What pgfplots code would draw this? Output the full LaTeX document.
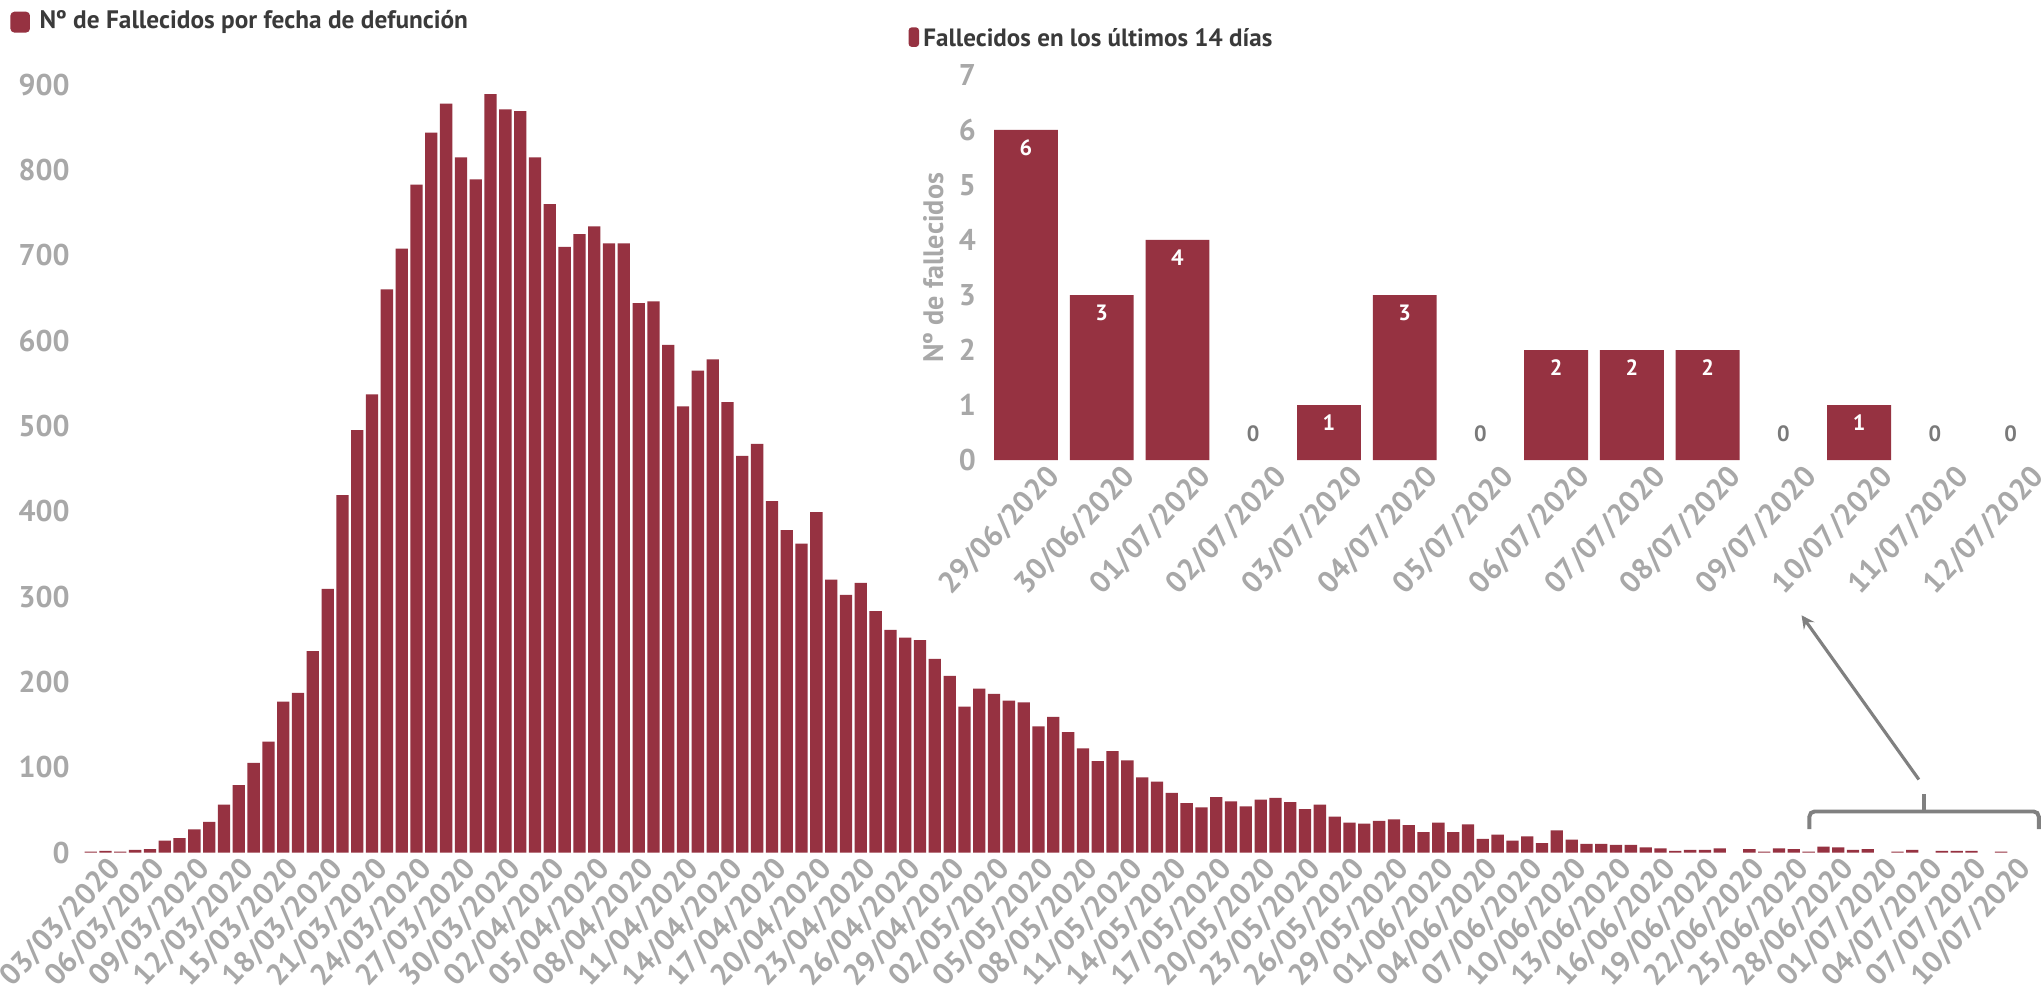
\documentclass[border=0pt]{standalone}
\usepackage{fontspec}
\setmainfont{PT Sans}
\usepackage{pgfplots}
\pgfplotsset{compat=1.18}

\definecolor{barred}{HTML}{963241}
\definecolor{tickgray}{HTML}{A8A8A8}
\definecolor{titlegray}{HTML}{3A3A3A}
\definecolor{zerogray}{HTML}{7A7A7A}
\definecolor{arrowgray}{HTML}{808080}

\newcommand{\tickfont}{\fontsize{11.5}{13}\selectfont\bfseries}

\begin{document}
\begin{tikzpicture}[x=1pt,y=1pt]
\useasboundingbox (0,0) rectangle (784,381.5);
\fill[white] (0,0) rectangle (784,381.5);

% main chart: deaths per day
\begin{axis}[
  at={(31.95pt,54.5pt)}, anchor=south west,
  scale only axis, width=749.8pt, height=294.5pt,
  xmin=-0.5, xmax=131.5, ymin=0, ymax=900,
  axis line style={draw=none}, major tick length=0pt,
  ybar, bar width=0.83,
  xtick={0,3,...,129},
  xticklabels={03/03/2020,06/03/2020,09/03/2020,12/03/2020,15/03/2020,18/03/2020,
    21/03/2020,24/03/2020,27/03/2020,30/03/2020,02/04/2020,05/04/2020,08/04/2020,
    11/04/2020,14/04/2020,17/04/2020,20/04/2020,23/04/2020,26/04/2020,29/04/2020,
    02/05/2020,05/05/2020,08/05/2020,11/05/2020,14/05/2020,17/05/2020,20/05/2020,
    23/05/2020,26/05/2020,29/05/2020,01/06/2020,04/06/2020,07/06/2020,10/06/2020,
    13/06/2020,16/06/2020,19/06/2020,22/06/2020,25/06/2020,28/06/2020,01/07/2020,
    04/07/2020,07/07/2020,10/07/2020},
  ytick={0,100,...,900},
  /pgf/number format/assume math mode=true,
  tick label style={font=\tickfont, text=tickgray},
  yticklabel style={anchor=east, inner sep=0pt, xshift=-5pt},
  xticklabel style={rotate=47, anchor=north east, inner sep=0pt, xshift=3.5pt, yshift=-5pt},
  clip=false,
]
\addplot[fill=barred, draw=none, bar shift=0pt] coordinates {
(0,1) (1,2) (2,1) (3,3) (4,4) (5,14) (6,17) (7,27) (8,36) (9,56)
(10,79) (11,105) (12,130) (13,177) (14,187) (15,236) (16,309) (17,419) (18,495) (19,537)
(20,660) (21,708) (22,783) (23,844) (24,878) (25,815) (26,789) (27,889) (28,871) (29,869)
(30,815) (31,760) (32,710) (33,725) (34,734) (35,714) (36,714) (37,644) (38,646) (39,595)
(40,523) (41,565) (42,578) (43,528) (44,465) (45,479) (46,412) (47,378) (48,362) (49,399)
(50,320) (51,302) (52,316) (53,283) (54,261) (55,252) (56,249) (57,227) (58,207) (59,171)
(60,192) (61,186) (62,178) (63,176) (64,148) (65,159) (66,141) (67,122) (68,107) (69,119)
(70,108) (71,88) (72,83) (73,70) (74,58) (75,53) (76,65) (77,60) (78,54) (79,62)
(80,64) (81,59) (82,51) (83,56) (84,42) (85,35) (86,34) (87,37) (88,39) (89,32)
(90,24) (91,35) (92,24) (93,33) (94,16) (95,21) (96,14) (97,19) (98,11) (99,26)
(100,15) (101,10) (102,10) (103,9) (104,9) (105,6) (106,5) (107,2) (108,3) (109,3)
(110,5) (112,4) (113,1) (114,5) (115,4) (116,1) (117,7) (118,6) (119,3)
(120,4) (122,1) (123,3) (125,2) (126,2) (127,2) (129,1)
};
% days 111, 121, 124, 128, 130 and 131: no deaths
\end{axis}

% main title
\fill[barred, rounded corners=1.5pt] (4,369) rectangle (11.5,377);
\node[anchor=west, inner sep=0pt, font=\fontsize{9.7}{11}\selectfont\bfseries, text=titlegray]
  at (15,373) {Nº de Fallecidos por fecha de defunción};

% inset: last 14 days
\begin{axis}[
  at={(379pt,205pt)}, anchor=south west,
  scale only axis, width=406.7pt, height=147.8pt,
  xmin=-0.5, xmax=13.5, ymin=0, ymax=7,
  axis line style={draw=none}, major tick length=0pt,
  ybar, bar width=0.843,
  xtick={0,...,13},
  xticklabels={29/06/2020,30/06/2020,01/07/2020,02/07/2020,03/07/2020,04/07/2020,
    05/07/2020,06/07/2020,07/07/2020,08/07/2020,09/07/2020,10/07/2020,11/07/2020,12/07/2020},
  ytick={0,...,7},
  /pgf/number format/assume math mode=true,
  tick label style={font=\tickfont, text=tickgray},
  yticklabel style={anchor=east, inner sep=0pt, xshift=-4.5pt},
  xticklabel style={rotate=47, anchor=north east, inner sep=0pt, xshift=4.3pt, yshift=-6pt},
  clip=false,
]
\addplot[fill=barred, draw=none, bar shift=0pt,
  nodes near coords, point meta=explicit symbolic,
  nodes near coords style={font=\fontsize{8.5}{10}\selectfont\bfseries, text=white,
    anchor=north, inner sep=0pt, yshift=-3.5pt}]
coordinates {
(0,6) [6] (1,3) [3] (2,4) [4] (4,1) [1] (5,3) [3]
(7,2) [2] (8,2) [2] (9,2) [2] (11,1) [1]
};
\addplot[draw=none, fill=none, bar shift=0pt,
  nodes near coords, point meta=explicit symbolic,
  nodes near coords style={font=\fontsize{8.5}{10}\selectfont\bfseries, text=zerogray,
    anchor=center, inner sep=0pt, yshift=10pt}]
coordinates {(3,0) [0] (6,0) [0] (10,0) [0] (12,0) [0] (13,0) [0]};
\end{axis}

% inset title and y label
\fill[barred, rounded corners=1.2pt] (348.5,363.5) rectangle (352.5,371);
\node[anchor=west, inner sep=0pt, font=\fontsize{9.6}{11}\selectfont\bfseries, text=titlegray]
  at (354,367) {Fallecidos en los últimos 14 días};
\node[rotate=90, inner sep=0pt, font=\fontsize{10.8}{12}\selectfont\bfseries, text=tickgray]
  at (358,278.75) {Nº de fallecidos};

% bracket and arrow pointing at the inset
\draw[arrowgray, line width=1.5pt, rounded corners=2pt]
  (694,63.5) -- (694,70.25) -- (782,70.25) -- (782,63.5);
\draw[arrowgray, line width=1.5pt] (738,70.25) -- (738,77);
\draw[arrowgray, line width=1.2pt, -stealth] (736,82.5) -- (691,145.5);
\end{tikzpicture}
\end{document}
